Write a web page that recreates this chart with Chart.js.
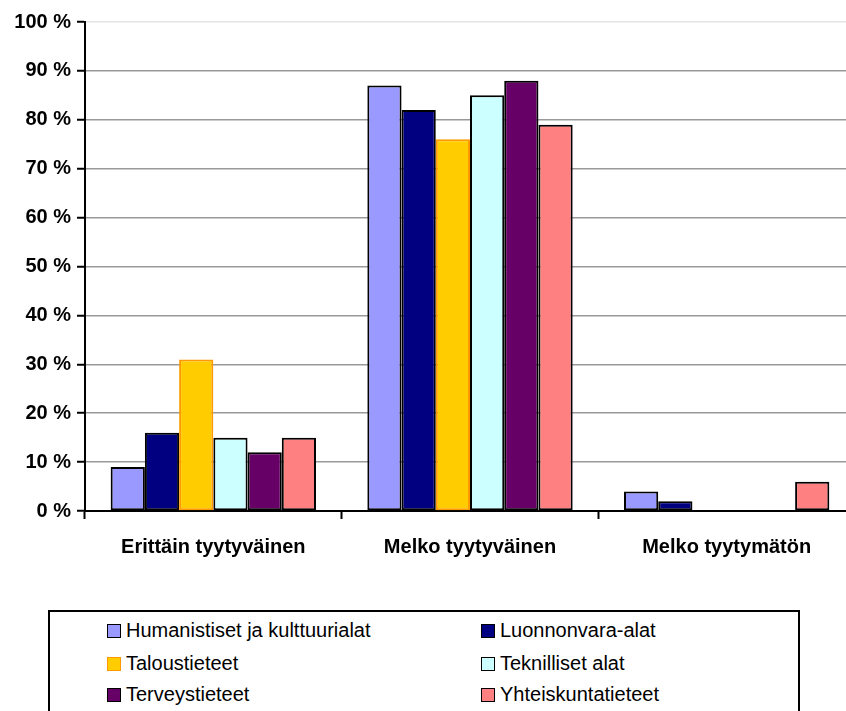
<!DOCTYPE html>
<html>
<head>
<meta charset="utf-8">
<script src="https://cdn.jsdelivr.net/npm/chart.js@4/dist/chart.umd.min.js"></script>
<style>
  html, body { margin: 0; padding: 0; background: #fff; overflow: hidden; width: 846px; height: 711px; }
  #wrap { position: relative; width: 846px; height: 711px; overflow: hidden; }
  #chart { position: absolute; left: 0; top: 0; }
  #legend {
    position: absolute; left: 48px; top: 610px; width: 752px; height: 130px;
    border: 2px solid #000; box-sizing: border-box;
    font-family: Arial, "Liberation Sans", sans-serif; font-size: 20px; color: #000;
  }
  .item { position: absolute; display: flex; align-items: center; white-space: nowrap; }
  .box { width: 12px; height: 12px; border: 1.5px solid #000; margin-right: 5px; }
</style>
</head>
<body>
<div id="wrap">
  <canvas id="chart" width="870" height="580"></canvas>
  <div id="legend"></div>
</div>
<script>
const categories = ['Erittäin tyytyväinen', 'Melko tyytyväinen', 'Melko tyytymätön'];
const seriesNames = ['Humanistiset ja kulttuurialat', 'Luonnonvara-alat', 'Taloustieteet', 'Teknilliset alat', 'Terveystieteet', 'Yhteiskuntatieteet'];
const humanistiset = [9, 87, 4];
const luonnonvara = [16, 82, 2];
const talous = [31, 76, 0];
const teknilliset = [15, 85, 0];
const terveys = [12, 88, 0];
const yhteiskunta = [15, 79, 6];
const seriesValues = [humanistiset, luonnonvara, talous, teknilliset, terveys, yhteiskunta];
const fillColors = ['#9999FF', '#000080', '#FFCC00', '#CCFFFF', '#660066', '#FF8080'];
const edgeColors = ['#000', '#000', '#FF9900', '#000', '#000', '#000'];

const datasets = seriesNames.map((name, i) => ({
    label: name,
    data: seriesValues[i],
    backgroundColor: fillColors[i],
    borderColor: edgeColors[i],
    borderWidth: 2,
    borderSkipped: false,
    categoryPercentage: 0.8,
    barPercentage: 1.0,
}));

const ctx = document.getElementById('chart').getContext('2d');
const chart = new Chart(ctx, {
    type: 'bar',
    data: { labels: categories, datasets },
    options: {
        responsive: false,
        devicePixelRatio: 1,
        animation: false,
        layout: { padding: { top: 22, right: 15, left: 0, bottom: 0 } },
        plugins: { legend: { display: false }, tooltip: { enabled: false } },
        scales: {
            y: {
                min: 0,
                max: 100,
                ticks: {
                    stepSize: 10,
                    callback: v => v + ' %',
                    color: '#000',
                    font: { family: 'Arial, "Liberation Sans"', size: 20, weight: 'bold' },
                    padding: 6,
                },
                grid: {
                    color: c => (c.tick && c.tick.value === 100) ? '#e4e4e4' : '#999',
                    lineWidth: 1.5,
                    tickLength: 8,
                    tickColor: '#000',
                    tickWidth: 2,
                },
                border: { color: '#000', width: 2 },
                afterFit: scale => { scale.width = 85; },
            },
            x: {
                ticks: {
                    color: '#000',
                    font: { family: 'Arial, "Liberation Sans"', size: 20, weight: 'bold' },
                    padding: 16,
                },
                grid: {
                    offset: true,
                    drawOnChartArea: false,
                    tickLength: 8,
                    tickColor: '#000',
                    tickWidth: 2,
                },
                border: { color: '#000', width: 2 },
                afterFit: scale => { scale.height = 580 - 511; },
            },
        },
    },
});

// legend in two columns, built from the datasets
const legend = document.getElementById('legend');
const colX = [57, 431];
const rowY = [7, 40, 71];
chart.data.datasets.forEach((ds, i) => {
    const item = document.createElement('div');
    item.className = 'item';
    item.style.left = colX[i % 2] + 'px';
    item.style.top = rowY[Math.floor(i / 2)] + 'px';
    const box = document.createElement('span');
    box.className = 'box';
    box.style.background = ds.backgroundColor;
    box.style.borderColor = ds.borderColor;
    const text = document.createElement('span');
    text.textContent = ds.label;
    item.appendChild(box);
    item.appendChild(text);
    legend.appendChild(item);
});
</script>
</body>
</html>
